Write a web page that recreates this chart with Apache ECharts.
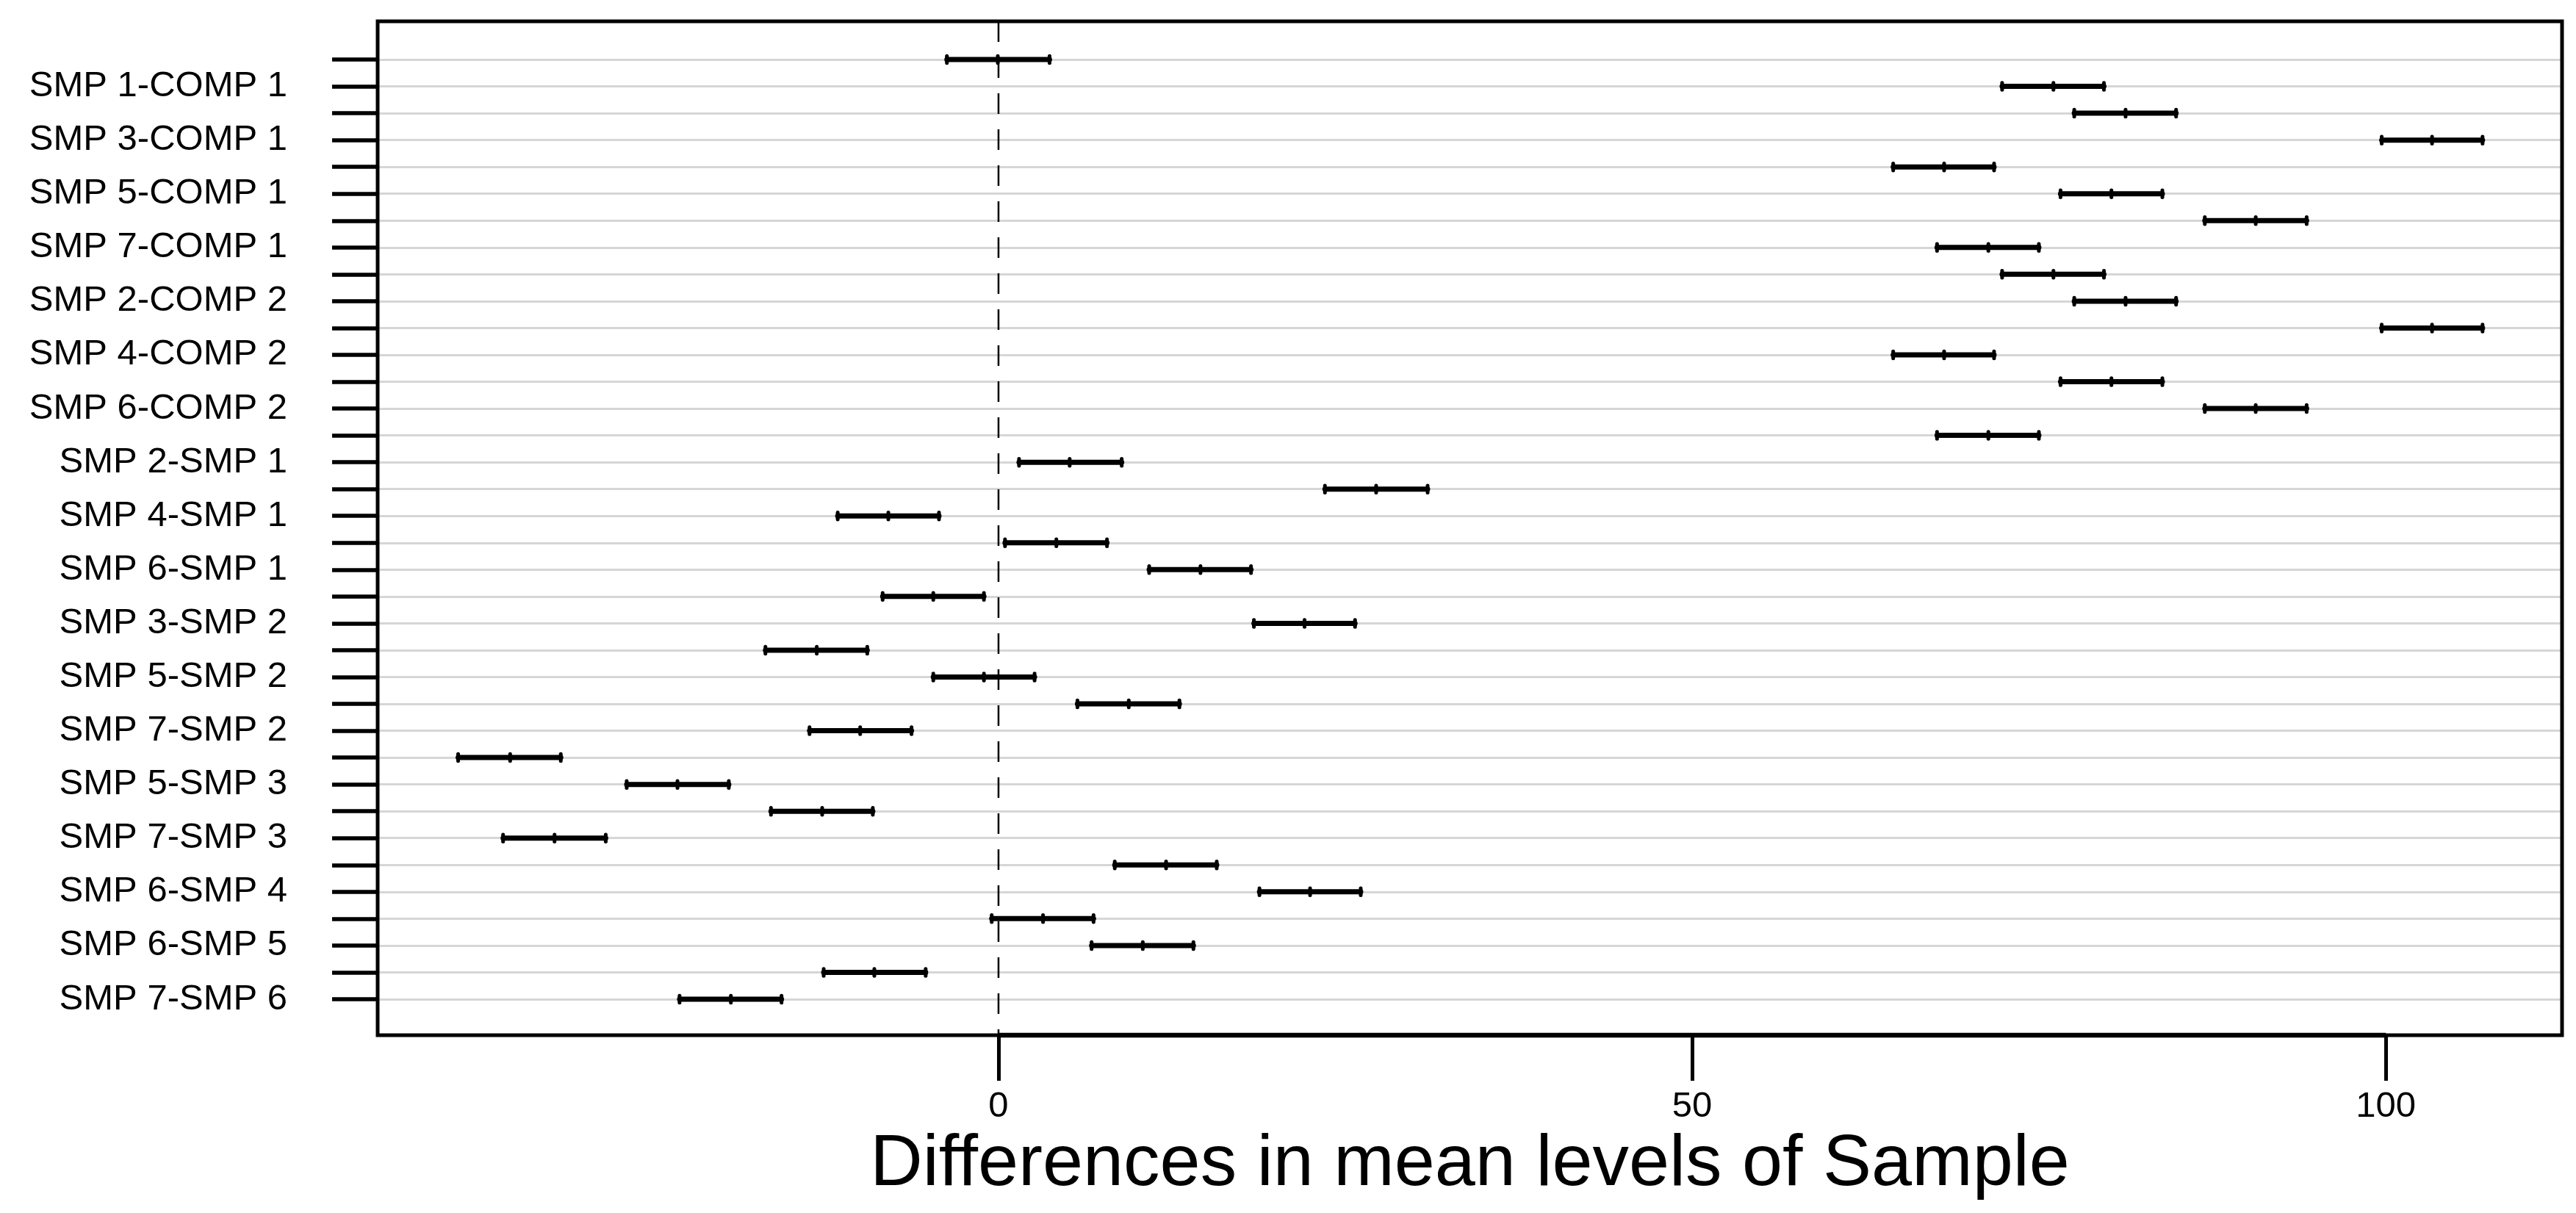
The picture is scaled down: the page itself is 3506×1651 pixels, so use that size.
<!DOCTYPE html>
<html>
<head>
<meta charset="utf-8">
<script src="https://cdn.jsdelivr.net/npm/echarts@6/dist/echarts.min.js"></script>
<style>
  html, body { margin: 0; padding: 0; background: #ffffff; }
  #chart { width: 3506px; height: 1651px; }
</style>
</head>
<body>
<div id="chart"></div>
<script>
const categories = [
  'COMP 2-COMP 1',
  'SMP 1-COMP 1', 'SMP 2-COMP 1', 'SMP 3-COMP 1', 'SMP 4-COMP 1', 'SMP 5-COMP 1', 'SMP 6-COMP 1', 'SMP 7-COMP 1',
  'SMP 1-COMP 2', 'SMP 2-COMP 2', 'SMP 3-COMP 2', 'SMP 4-COMP 2', 'SMP 5-COMP 2', 'SMP 6-COMP 2', 'SMP 7-COMP 2',
  'SMP 2-SMP 1', 'SMP 3-SMP 1', 'SMP 4-SMP 1', 'SMP 5-SMP 1', 'SMP 6-SMP 1', 'SMP 7-SMP 1',
  'SMP 3-SMP 2', 'SMP 4-SMP 2', 'SMP 5-SMP 2', 'SMP 6-SMP 2', 'SMP 7-SMP 2',
  'SMP 4-SMP 3', 'SMP 5-SMP 3', 'SMP 6-SMP 3', 'SMP 7-SMP 3',
  'SMP 5-SMP 4', 'SMP 6-SMP 4', 'SMP 7-SMP 4',
  'SMP 6-SMP 5', 'SMP 7-SMP 5',
  'SMP 7-SMP 6'
];
const diffValues = [
  -0.05,
  76.04, 81.24, 103.33, 68.16, 80.22, 90.62, 71.35,
  76.04, 81.24, 103.33, 68.16, 80.22, 90.62, 71.35,
  5.13, 27.22, -7.94, 4.17, 14.56, -4.70,
  22.06, -13.10, -1.05, 9.39, -9.97,
  -35.20, -23.14, -12.71, -32.00,
  12.08, 22.46, 3.21,
  10.40, -8.95,
  -19.29
];
const lwrValues = [
  -3.72,
  72.34, 77.54, 99.70, 64.49, 76.55, 86.95, 67.65,
  72.34, 77.54, 99.70, 64.49, 76.55, 86.95, 67.65,
  1.48, 23.53, -11.59, 0.47, 10.86, -8.35,
  18.41, -16.80, -4.70, 5.69, -13.62,
  -38.95, -26.80, -16.40, -35.71,
  8.38, 18.81, -0.49,
  6.71, -12.60,
  -22.99
];
const uprValues = [
  3.68,
  79.68, 84.88, 106.97, 71.76, 83.89, 94.29, 74.99,
  79.68, 84.88, 106.97, 71.76, 83.89, 94.29, 74.99,
  8.88, 30.93, -4.29, 7.82, 18.20, -1.05,
  25.70, -9.46, 2.60, 13.04, -6.27,
  -31.55, -19.44, -9.06, -28.31,
  15.73, 26.11, 6.85,
  14.05, -5.25,
  -15.64
];
const xTickValues = [0, 50, 100];
const xMin = -44.75, xMax = 112.7;
const FONT = "'Liberation Sans', Arial, Helvetica, sans-serif";

const barData = categories.map((c, i) => [i, lwrValues[i], diffValues[i], uprValues[i]]);
const axisLineData = [[xTickValues[0], 0], [xTickValues[xTickValues.length - 1], 0]];

function renderBar(params, api) {
  const y = api.value(0);
  const pL = api.coord([api.value(1), y]);
  const pD = api.coord([api.value(2), y]);
  const pU = api.coord([api.value(3), y]);
  const h = api.size([0, 1])[1] * 0.13;
  const barSt = { stroke: '#000', lineWidth: 7, lineCap: 'round' };
  const tickSt = { stroke: '#000', lineWidth: 5, lineCap: 'round' };
  const seg = (x1, y1, x2, y2, st) => ({ type: 'line', shape: { x1, y1, x2, y2 }, style: st });
  return {
    type: 'group',
    children: [
      seg(pL[0], pL[1], pU[0], pU[1], barSt),
      seg(pL[0], pL[1] - h, pL[0], pL[1] + h, tickSt),
      seg(pD[0], pD[1] - h, pD[0], pD[1] + h, tickSt),
      seg(pU[0], pU[1] - h, pU[0], pU[1] + h, tickSt)
    ]
  };
}

function renderZero(params, api) {
  const x = api.coord([api.value(0), 0])[0];
  const cs = params.coordSys;
  return {
    type: 'line',
    shape: { x1: x, y1: cs.y, x2: x, y2: cs.y + cs.height },
    style: { stroke: '#000', lineWidth: 2.5, lineDash: [28, 21] }
  };
}

const chart = echarts.init(document.getElementById('chart'), null, { renderer: 'canvas' });
chart.setOption({
  backgroundColor: '#ffffff',
  animation: false,
  grid: [
    { left: 514, right: 19, top: 29, bottom: 242, show: true, borderColor: '#000', borderWidth: 5, backgroundColor: 'transparent', z: 5 },
    { left: 514, right: 19, top: 81, bottom: 291 }
  ],
  xAxis: [
    {
      type: 'value', gridIndex: 0, min: xMin, max: xMax,
      axisLine: { show: false, onZero: false },
      splitLine: { show: false },
      axisTick: { show: true, length: 62, lineStyle: { color: '#000', width: 5 }, customValues: xTickValues },
      axisLabel: { show: true, margin: 73, fontSize: 49, color: '#000', fontFamily: FONT, customValues: xTickValues },
      name: 'Differences in mean levels of Sample',
      nameLocation: 'middle',
      nameGap: 118,
      nameTextStyle: { fontSize: 99, color: '#000', fontFamily: FONT }
    },
    {
      type: 'value', gridIndex: 1, min: xMin, max: xMax, show: false,
      axisLine: { onZero: false },
      splitLine: { show: false }
    }
  ],
  yAxis: [
    { type: 'value', gridIndex: 0, min: 0, max: 1, show: false, axisLine: { onZero: false }, splitLine: { show: false } },
    {
      type: 'category', gridIndex: 1, data: categories, inverse: true, boundaryGap: false,
      axisLine: { show: false, onZero: false },
      axisTick: { show: true, interval: 0, length: 62, lineStyle: { color: '#000', width: 5.5 } },
      axisLabel: {
        show: true, margin: 123, fontSize: 49, color: '#000', fontFamily: FONT,
        interval: (index) => index % 2 === 1
      },
      splitLine: { show: true, interval: 0, lineStyle: { color: '#D6D6D6', width: 3 } }
    }
  ],
  series: [
    {
      type: 'custom', name: 'zero', xAxisIndex: 0, yAxisIndex: 0,
      data: [[0]], encode: { x: 0 }, renderItem: renderZero, z: 3, silent: true
    },
    {
      type: 'line', name: 'axisline', xAxisIndex: 0, yAxisIndex: 0,
      data: axisLineData, symbol: 'none', clip: false, silent: true, z: 6,
      lineStyle: { color: '#000', width: 6.5 }
    },
    {
      type: 'custom', name: 'intervals', xAxisIndex: 1, yAxisIndex: 1,
      data: barData, encode: { y: 0, x: [1, 2, 3] }, renderItem: renderBar, z: 10
    }
  ]
});
</script>
</body>
</html>
